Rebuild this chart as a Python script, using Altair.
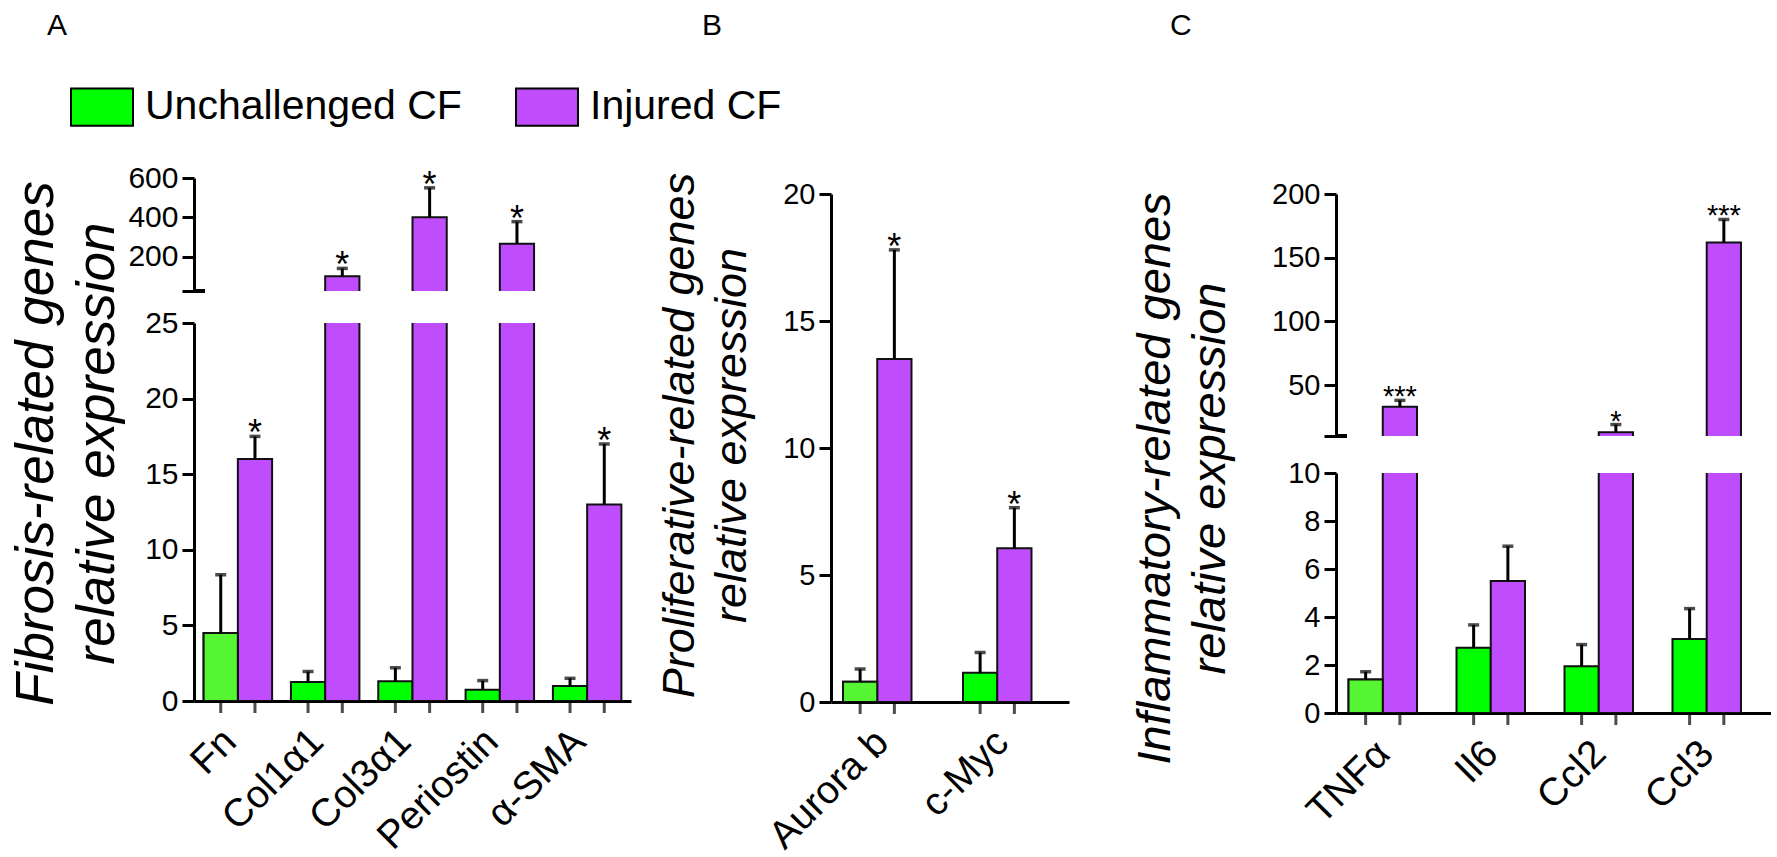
import altair as alt
import pandas as pd

FONT = "Liberation Sans"
GROUPS = ["Unchallenged CF", "Injured CF"]
COLORS = ["#00FF00", "#BF4DFD"]
LIGHT_GREEN = "#55F533"

# Panel A: fibrosis-related genes
genes_a = ["Fn", "Col1α1", "Col3α1", "Periostin", "α-SMA"]
unch_a = [4.5, 1.25, 1.3, 0.75, 1.0]
unch_a_err = [8.35, 1.95, 2.2, 1.35, 1.5]
inj_a = [16.0, 100.0, 400.0, 265.0, 13.0]
inj_a_err = [17.5, 140.0, 550.0, 378.0, 17.0]
stars_a = ["*", "*", "*", "*", "*"]
light_a = [True, False, False, False, False]

# Panel B: proliferative-related genes
genes_b = ["Aurora b", "c-Myc"]
unch_b = [0.8, 1.15]
unch_b_err = [1.3, 1.95]
inj_b = [13.5, 6.05]
inj_b_err = [17.8, 7.65]
stars_b = ["*", "*"]
light_b = [True, False]

# Panel C: inflammatory-related genes
genes_c = ["TNFα", "Il6", "Ccl2", "Ccl3"]
unch_c = [1.4, 2.72, 1.95, 3.08]
unch_c_err = [1.72, 3.67, 2.85, 4.35]
inj_c = [33.0, 5.5, 13.0, 162.0]
inj_c_err = [38.0, 6.95, 19.0, 180.0]
stars_c = ["***", "", "*", "***"]
light_c = [True, False, False, False]


def make_df(genes, unch, unch_err, inj, inj_err, stars, light):
    rows = []
    for i, g in enumerate(genes):
        rows.append(dict(gene=g, group=GROUPS[0], value=unch[i], err=unch_err[i], star="", light=light[i]))
        rows.append(dict(gene=g, group=GROUPS[1], value=inj[i], err=inj_err[i], star=stars[i], light=False))
    return pd.DataFrame(rows)


LEGEND = alt.Legend(
    title=None, orient="none", legendX=-124, legendY=-103, direction="horizontal",
    symbolType="M-1,-0.6H1V0.6H-1Z", symbolSize=3844, symbolStrokeColor="black",
    symbolStrokeWidth=2, symbolOpacity=1, labelFontSize=41, labelFont=FONT,
    labelColor="black", labelOffset=11, columnPadding=50, padding=0, labelLimit=600,
)


def segment(df, genes, pad_inner, pad_outer, plot_w, height, domain, tick_vals, label_vals,
            x_shift=0, y_range=None, bottom=False, y_title=None, title_x=0, title_y=0,
            title_size=47, title_lh=59, label_size=30, star_size=36, star_dy=9,
            break_tick=False, x_label_size=39):
    lo, hi = domain
    xs = alt.Scale(domain=genes, paddingInner=pad_inner, paddingOuter=pad_outer,
                   range=[x_shift, x_shift + plot_w])
    if bottom:
        xaxis = alt.Axis(title=None, labelAngle=315, labelAlign="right", labelBaseline="middle",
                         labelFontSize=x_label_size, labelPadding=34, labelOffset=-8, ticks=False,
                         domainWidth=3, domainColor="black", labelLimit=400, labelColor="black",
                         labelFont=FONT)
    else:
        xaxis = None
    x = alt.X("gene:N", sort=genes, scale=xs, axis=xaxis)
    xo = alt.XOffset("group:N", sort=GROUPS,
                     scale=alt.Scale(domain=GROUPS, paddingInner=0, paddingOuter=0))
    ys_kw = dict(domain=domain, zero=False, nice=False)
    if y_range is not None:
        ys_kw["range"] = y_range
    ys = alt.Scale(**ys_kw)
    ax_kw = dict(values=tick_vals, tickCount=len(tick_vals) + 10, format="d",
                 labelExpr=f"indexof({label_vals}, datum.value) >= 0 ? datum.label : ''",
                 labelFontSize=label_size, labelFont=FONT, labelColor="black", labelPadding=4,
                 domainWidth=3, domainColor="black", tickWidth=3, tickSize=12, tickColor="black",
                 grid=False, offset=-x_shift)
    if y_title:
        ax_kw.update(title=y_title, titleFontSize=title_size, titleFontStyle="italic",
                     titleFontWeight="normal", titleAngle=270, titleAlign="center",
                     titleBaseline="alphabetic", titleX=title_x, titleY=title_y,
                     titleLineHeight=title_lh, titleFont=FONT, titleColor="black")
    else:
        ax_kw["title"] = None
    yaxis = alt.Axis(**ax_kw)

    def Y(field):
        return alt.Y(field, type="quantitative", scale=ys, axis=yaxis)

    base = alt.Chart(df)
    in_seg = f"datum.err >= {lo} && datum.err <= {hi}"
    bars = base.mark_bar(clip=True, stroke="#111111", strokeWidth=2).encode(
        x=x, xOffset=xo, y=Y("value"), y2=alt.datum(0),
        color=alt.Color("group:N", scale=alt.Scale(domain=GROUPS, range=COLORS), legend=LEGEND),
    )
    light = base.transform_filter("datum.light").mark_bar(
        clip=True, stroke="#111111", strokeWidth=2, color=LIGHT_GREEN
    ).encode(x=x, xOffset=xo, y=Y("value"), y2=alt.datum(0))
    rules = base.transform_filter(f"datum.err >= {lo} && datum.value <= {hi}").mark_rule(
        clip=True, strokeWidth=3, color="black"
    ).encode(x=x, xOffset=xo, y=Y("value"), y2=alt.Y2("err"))
    caps = base.transform_filter(in_seg).mark_tick(
        orient="horizontal", size=11, thickness=3.5, color="black"
    ).encode(x=x, xOffset=xo, y=Y("err"))
    stars = base.transform_filter(in_seg).mark_text(
        fontSize=star_size, font=FONT, baseline="alphabetic", dy=star_dy, color="black"
    ).encode(x=x, xOffset=xo, y=Y("err"), text="star:N")
    layers = [bars, light, rules, caps, stars]
    if bottom:
        xticks = base.mark_tick(orient="vertical", size=12, thickness=3, color="black").encode(
            x=x, xOffset=xo, y=alt.value(height + 6)
        )
        layers.append(xticks)
    if break_tick:
        brk = base.mark_rule(strokeWidth=3, color="black").encode(
            y=alt.datum(lo), x=alt.value(x_shift), x2=alt.value(x_shift + 11)
        )
        layers.append(brk)
    return alt.layer(*layers).properties(width=x_shift + plot_w, height=height)


def letter(t, dx, offset):
    return alt.TitleParams(t, anchor="start", frame="group", dx=dx, offset=offset, fontSize=30,
                           font=FONT, fontWeight="normal", baseline="alphabetic", color="black")


df_a = make_df(genes_a, unch_a, unch_a_err, inj_a, inj_a_err, stars_a, light_a)
df_b = make_df(genes_b, unch_b, unch_b_err, inj_b, inj_b_err, stars_b, light_b)
df_c = make_df(genes_c, unch_c, unch_c_err, inj_c, inj_c_err, stars_c, light_c)

# Panel A (origin of the whole layout = panel A plot top-left)
a_up = segment(df_a, genes_a, 0.2157, 0.11, 437, 113, [25, 600], [25, 200, 400, 600],
               [200, 400, 600], break_tick=True)
a_low = segment(df_a, genes_a, 0.2157, 0.11, 437, 378, [0, 25], [0, 5, 10, 15, 20, 25],
                [0, 5, 10, 15, 20, 25], bottom=True,
                y_title=["Fibrosis-related genes", "relative expression"],
                title_x=-142, title_y=120, title_size=53, title_lh=61)
panel_a = alt.vconcat(a_up, a_low, spacing=32, bounds="flush", title=letter("A", -147, 98))

# Panel B
b_chart = segment(df_b, genes_b, 0.2167, 0.1, 238, 524, [0, 20], [0, 5, 10, 15, 20],
                  [0, 5, 10, 15, 20], x_shift=637, y_range=[524, 16], bottom=True,
                  y_title=["Proliferative-related genes", "relative expression"],
                  title_x=-138, title_y=257, title_size=45, title_lh=52, label_size=29)
panel_b = alt.vconcat(b_chart, bounds="flush", title=letter("B", 508, 107))

# Panel C
c_up = segment(df_c, genes_c, 0.2037, 0.116, 435, 258, [10, 200], [10, 50, 100, 150, 200],
               [50, 100, 150, 200], x_shift=1142, y_range=[258, 16], break_tick=True,
               label_size=29, star_size=29, star_dy=6)
c_low = segment(df_c, genes_c, 0.2037, 0.116, 435, 240, [0, 10], [0, 2, 4, 6, 8, 10],
                [0, 2, 4, 6, 8, 10], x_shift=1142, bottom=True,
                y_title=["Inflammatory-related genes", "relative expression"],
                title_x=-167, title_y=5, title_size=47, title_lh=55, label_size=29,
                star_size=29, star_dy=6)
panel_c = alt.vconcat(c_up, c_low, spacing=37, bounds="flush", title=letter("C", 976, 113))

chart = alt.hconcat(panel_a, panel_b, panel_c, spacing=0, bounds="flush").properties(
    padding={"left": 9, "top": 11, "right": 0, "bottom": 0}, background="white"
).configure_view(stroke=None)

chart.save("out.html", embed_options={"renderer": "svg", "actions": False})
